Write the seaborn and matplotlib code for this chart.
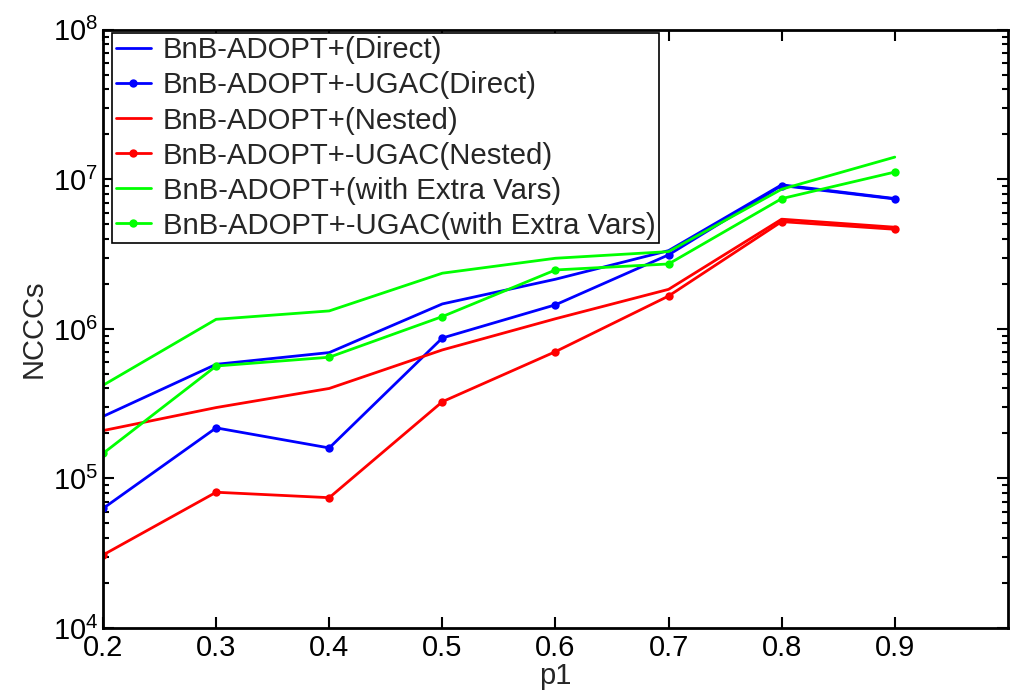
import numpy as np
import pandas as pd
import seaborn as sns
import matplotlib.pyplot as plt
from matplotlib.ticker import LogLocator

p1 = [0.2, 0.3, 0.4, 0.5, 0.6, 0.7, 0.8, 0.9]

direct = [2.6e5, 5.8e5, 6.95e5, 1.47e6, 2.15e6, 3.34e6, 9.2e6, 7.45e6]
direct_ugac = [6.3e4, 2.18e5, 1.6e5, 8.7e5, 1.45e6, 3.13e6, 9.1e6, 7.4e6]
nested = [2.09e5, 2.98e5, 4.0e5, 7.24e5, 1.17e6, 1.84e6, 5.42e6, 4.79e6]
nested_ugac = [3.08e4, 8.09e4, 7.44e4, 3.26e5, 7.05e5, 1.66e6, 5.22e6, 4.64e6]
extra = [4.2e5, 1.16e6, 1.32e6, 2.36e6, 2.97e6, 3.29e6, 8.6e6, 1.41e7]
extra_ugac = [1.47e5, 5.65e5, 6.47e5, 1.21e6, 2.48e6, 2.72e6, 7.44e6, 1.12e7]

labels = ["BnB-ADOPT+(Direct)", "BnB-ADOPT+-UGAC(Direct)",
          "BnB-ADOPT+(Nested)", "BnB-ADOPT+-UGAC(Nested)",
          "BnB-ADOPT+(with Extra Vars)", "BnB-ADOPT+-UGAC(with Extra Vars)"]
series = [direct, direct_ugac, nested, nested_ugac, extra, extra_ugac]
colors = ["#0000ff", "#0000ff", "#ff0000", "#ff0000", "#00ff00", "#00ff00"]
markers = [None, "o", None, "o", None, "o"]

sns.set_style("ticks")
plt.rcParams['font.family'] = ['Liberation Sans', 'DejaVu Sans']
plt.rcParams['mathtext.fontset'] = 'custom'
plt.rcParams['mathtext.rm'] = 'Liberation Sans'

fig = plt.figure(figsize=(10.15, 6.95), dpi=100)
ax = fig.add_axes([0.1015, 0.0964, 0.8915, 0.8606])

for lab, vals, c, m in zip(labels, series, colors, markers):
    df = pd.DataFrame({"p1": p1, "NCCCs": vals})
    sns.lineplot(data=df, x="p1", y="NCCCs", ax=ax, color=c, marker=m,
                 markersize=6, markeredgewidth=0, linewidth=2, label=lab)

ax.set_yscale("log")
ax.set_xlim(0.2, 1.0)
ax.set_ylim(1e4, 1e8)
ax.set_xticks(p1)
ax.set_xticklabels([str(v) for v in p1])
ax.yaxis.set_major_locator(LogLocator(base=10, numticks=10))
ax.yaxis.set_minor_locator(LogLocator(base=10, subs=np.arange(2, 10), numticks=20))

ax.tick_params(axis="both", which="both", direction="in", top=True, right=True,
               labelsize=21, width=1.5, colors="black")
ax.tick_params(which="major", length=8)
ax.tick_params(which="minor", length=4)
ax.tick_params(axis="x", pad=4)
for s in ax.spines.values():
    s.set_linewidth(2)
    s.set_color("black")

ax.set_xlabel("p1", fontsize=21, labelpad=0)
ax.set_ylabel("NCCCs", fontsize=21, labelpad=4)

leg = ax.legend(loc="upper left", bbox_to_anchor=(0.01, 0.995), borderaxespad=0,
                fontsize=21.2, handlelength=1.2, handletextpad=0.4,
                labelspacing=0.24, borderpad=0.12, fancybox=False, framealpha=1)
leg.get_frame().set_edgecolor("black")
leg.get_frame().set_linewidth(1.2)

fig.savefig("out.png", dpi=100)
